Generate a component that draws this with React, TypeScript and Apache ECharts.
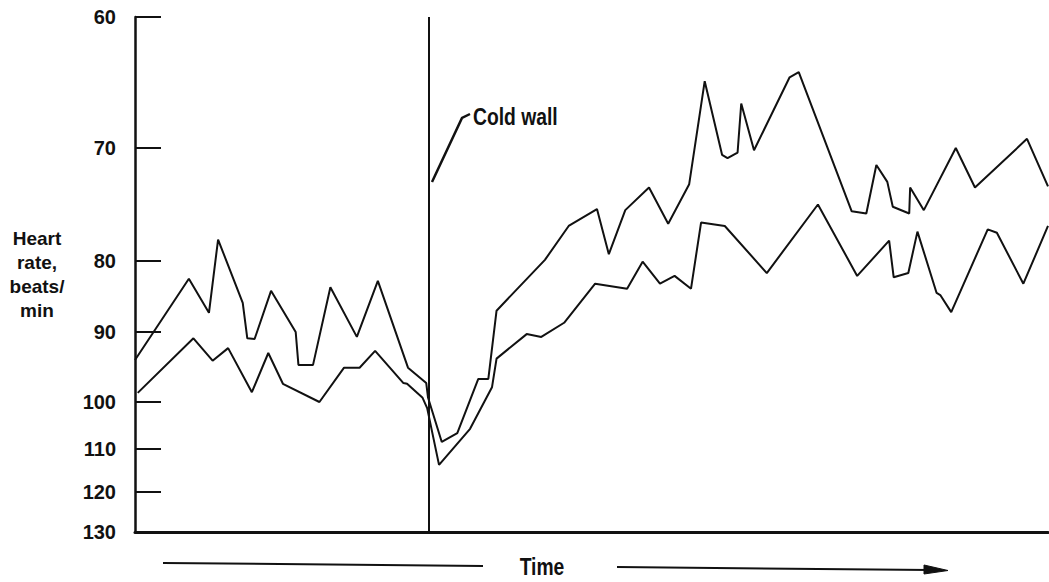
import React, { useEffect, useRef } from "react";
import * as echarts from "echarts";

// Heart-rate axis: labelled values and their (hand-drawn, irregular) scale positions
const Y_TICK_HR = [60, 70, 80, 90, 100, 110, 120, 130];
const Y_TICK_POS = [0, 131, 244, 315, 385, 432, 475, 515];

// Time (arbitrary units 0-100) of the cold wall
const COLD_WALL_T = 32.2;

// Upper trace
const TIME_A = [0, 5.9, 8.1, 9.1, 11.8, 12.3, 13.1, 14.9, 17.6, 17.9, 19.5, 21.4, 24.3, 26.6, 29.9, 31.9, 32.1, 33.6, 35.3, 37.6, 38.7, 39.6, 44.9, 47.5, 50.6, 51.9, 53.7, 56.3, 58.4, 60.7, 62.4, 64.3, 64.9, 66.0, 66.4, 67.8, 71.7, 72.7, 78.5, 80.1, 81.2, 82.4, 83.0, 84.8, 84.9, 86.4, 89.9, 92.0, 97.7, 100];
const HR_A = [94.0, 82.5, 87.3, 78.1, 85.9, 90.9, 91.0, 84.2, 90.0, 94.7, 94.7, 83.7, 90.7, 82.8, 95.1, 97.3, 99.4, 108.5, 106.6, 96.7, 96.7, 87.0, 79.9, 76.9, 75.4, 79.4, 75.5, 73.5, 76.7, 73.2, 64.9, 70.6, 70.9, 70.4, 66.6, 70.2, 64.6, 64.2, 75.6, 75.8, 71.5, 73.0, 75.2, 75.8, 73.5, 75.5, 70.0, 73.5, 69.3, 73.4];

// Lower trace
const TIME_B = [0.3, 6.4, 8.5, 10.2, 12.8, 14.6, 16.2, 20.2, 22.9, 24.6, 26.3, 29.4, 29.8, 31.5, 32.0, 33.3, 36.7, 39.1, 39.6, 42.9, 44.5, 47.0, 50.4, 53.9, 55.6, 57.5, 59.1, 60.9, 62.0, 64.6, 69.2, 74.8, 79.1, 82.6, 83.1, 84.7, 85.7, 87.8, 88.2, 89.4, 93.4, 94.4, 97.3, 100];
const HR_B = [98.7, 90.9, 94.1, 92.3, 98.6, 93.0, 97.4, 100.0, 95.1, 95.1, 92.7, 97.3, 97.4, 99.4, 101.3, 113.7, 105.7, 97.9, 93.8, 90.3, 90.7, 88.7, 83.2, 83.9, 80.1, 83.2, 82.1, 83.9, 76.6, 76.9, 81.7, 75.0, 82.1, 78.2, 82.3, 81.7, 77.4, 84.5, 84.8, 87.2, 77.2, 77.5, 83.2, 76.9];

// piecewise-linear heart-rate scale (the original axis is not evenly spaced)
function toAxis(hr: number): number {
  for (let i = 0; i < Y_TICK_HR.length - 1; i++) {
    const h0 = Y_TICK_HR[i], h1 = Y_TICK_HR[i + 1];
    if (hr <= h1 || i === Y_TICK_HR.length - 2) {
      const p0 = Y_TICK_POS[i], p1 = Y_TICK_POS[i + 1];
      return p0 + ((hr - h0) / (h1 - h0)) * (p1 - p0);
    }
  }
  return 0;
}

const INK = "#111";
const FONT = "'Liberation Sans', Arial, sans-serif";

export default function App() {
  const ref = useRef<HTMLDivElement>(null);
  useEffect(() => {
    if (!ref.current) return;
    const chart = echarts.init(ref.current, null, { renderer: "svg" });
    const dataA = TIME_A.map((t, i) => [t, toAxis(HR_A[i])]);
    const dataB = TIME_B.map((t, i) => [t, toAxis(HR_B[i])]);
    chart.setOption({
      animation: false,
      backgroundColor: "#fff",
      grid: { left: 135, right: 1, top: 17, bottom: 50 },
      xAxis: {
        type: "value",
        min: 0,
        max: 100,
        position: "bottom",
        axisLine: { show: true, onZero: false, lineStyle: { color: INK, width: 3 } },
        axisTick: { show: false },
        axisLabel: { show: false },
        splitLine: { show: false },
      },
      yAxis: {
        type: "value",
        min: 0,
        max: Y_TICK_POS[Y_TICK_POS.length - 1],
        inverse: true,
        name: "Heart\nrate,\nbeats/\nmin",
        nameLocation: "middle",
        nameGap: 98,
        nameRotate: 0,
        nameTextStyle: {
          color: INK,
          fontFamily: FONT,
          fontWeight: "bold",
          fontSize: 19,
          lineHeight: 24,
          align: "center",
          padding: [6, 0, 0, 0],
        },
        axisLine: { show: true, onZero: false, lineStyle: { color: INK, width: 2.5 } },
        axisTick: {
          show: true,
          inside: true,
          length: 26,
          customValues: Y_TICK_POS,
          lineStyle: { color: INK, width: 2 },
        },
        axisLabel: {
          show: true,
          customValues: Y_TICK_POS,
          margin: 19,
          color: INK,
          fontFamily: FONT,
          fontWeight: "bold",
          fontSize: 20,
          formatter: (v: number) => {
            const idx = Y_TICK_POS.indexOf(v);
            return idx >= 0 ? String(Y_TICK_HR[idx]) : "";
          },
        },
        splitLine: { show: false },
      },
      graphic: [
        {
          type: "polyline",
          shape: { points: [[432, 182], [462, 118], [470, 114]] },
          style: { stroke: INK, lineWidth: 2.5, fill: "none" },
        },
        {
          type: "text",
          x: 473,
          y: 117,
          scaleX: 0.84,
          style: {
            text: "Cold wall",
            fill: INK,
            font: `bold 23px ${FONT}`,
            textAlign: "left",
            textVerticalAlign: "middle",
          },
        },
        {
          type: "line",
          shape: { x1: 163, y1: 563, x2: 483, y2: 566 },
          style: { stroke: INK, lineWidth: 2 },
        },
        {
          type: "text",
          x: 542,
          y: 567,
          scaleX: 0.84,
          style: {
            text: "Time",
            fill: INK,
            font: `bold 23px ${FONT}`,
            textAlign: "center",
            textVerticalAlign: "middle",
          },
        },
        {
          type: "line",
          shape: { x1: 617, y1: 567, x2: 930, y2: 570 },
          style: { stroke: INK, lineWidth: 2 },
        },
        {
          type: "polygon",
          shape: { points: [[924, 565], [948, 570.5], [924, 574]] },
          style: { fill: INK, stroke: INK, lineWidth: 1 },
        },
      ],
      series: [
        {
          type: "line",
          data: dataA,
          showSymbol: false,
          lineStyle: { color: INK, width: 2 },
          silent: true,
          markLine: {
            silent: true,
            symbol: "none",
            label: { show: false },
            lineStyle: { color: INK, width: 2, type: "solid" },
            data: [{ xAxis: COLD_WALL_T }],
          },
        },
        {
          type: "line",
          data: dataB,
          showSymbol: false,
          lineStyle: { color: INK, width: 2 },
          silent: true,
        },
      ],
    });
    return () => chart.dispose();
  }, []);
  return (
    <div
      ref={ref}
      style={{ position: "fixed", left: 0, top: 0, width: 1049, height: 582, background: "#fff" }}
    />
  );
}
